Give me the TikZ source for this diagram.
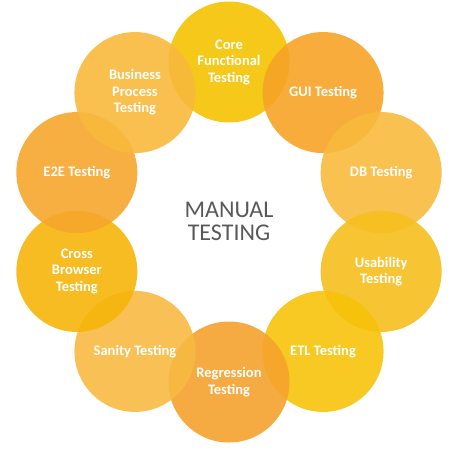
\documentclass[tikz,border=0pt]{standalone}
\usepackage{fontspec}
\setmainfont{Carlito}
\definecolor{coreyel}{HTML}{F5C200}
\definecolor{guiorg}{HTML}{F6A327}
\definecolor{dborg}{HTML}{F8BA3C}
\definecolor{usayel}{HTML}{F6BF1E}
\definecolor{etlyel}{HTML}{F6C30A}
\definecolor{regorg}{HTML}{F5A22D}
\definecolor{sanorg}{HTML}{F8BA43}
\definecolor{crsyel}{HTML}{F6B50A}
\definecolor{eteorg}{HTML}{F6A62C}
\definecolor{busorg}{HTML}{F8B93C}
\definecolor{titlegray}{HTML}{595959}
\tikzset{
  bubble/.style={circle, minimum size=121pt, inner sep=0pt, fill opacity=0.9,
    text opacity=1, text=white, align=center,
    font=\fontsize{14.5}{16.5}\selectfont\bfseries}
}
\begin{document}
\begin{tikzpicture}[x=1pt,y=-1pt]
\useasboundingbox (0,0) rectangle (455,450);
% ring of test types
\foreach \ang/\name/\col/\txt in {
  90/core/coreyel/{Core\\Functional\\Testing},
  54/gui/guiorg/{GUI Testing},
  18/db/dborg/{DB Testing},
  -18/usab/usayel/{Usability\\Testing},
  -54/etl/etlyel/{ETL Testing},
  -90/regr/regorg/{Regression\\Testing},
  -126/sanity/sanorg/{Sanity Testing},
  -162/cross/crsyel/{Cross\\Browser\\Testing},
  162/ete/eteorg/{E2E Testing},
  126/busi/busorg/{Business\\Process\\Testing}}
  \node[bubble, fill=\col] (\name) at ({229+160*cos(\ang)},{222-160*sin(\ang)}) {\txt};
\node[align=center, text=titlegray, font=\fontsize{24}{23}\selectfont] (title) at (229,221) {MANUAL\\TESTING};
\end{tikzpicture}
\end{document}
